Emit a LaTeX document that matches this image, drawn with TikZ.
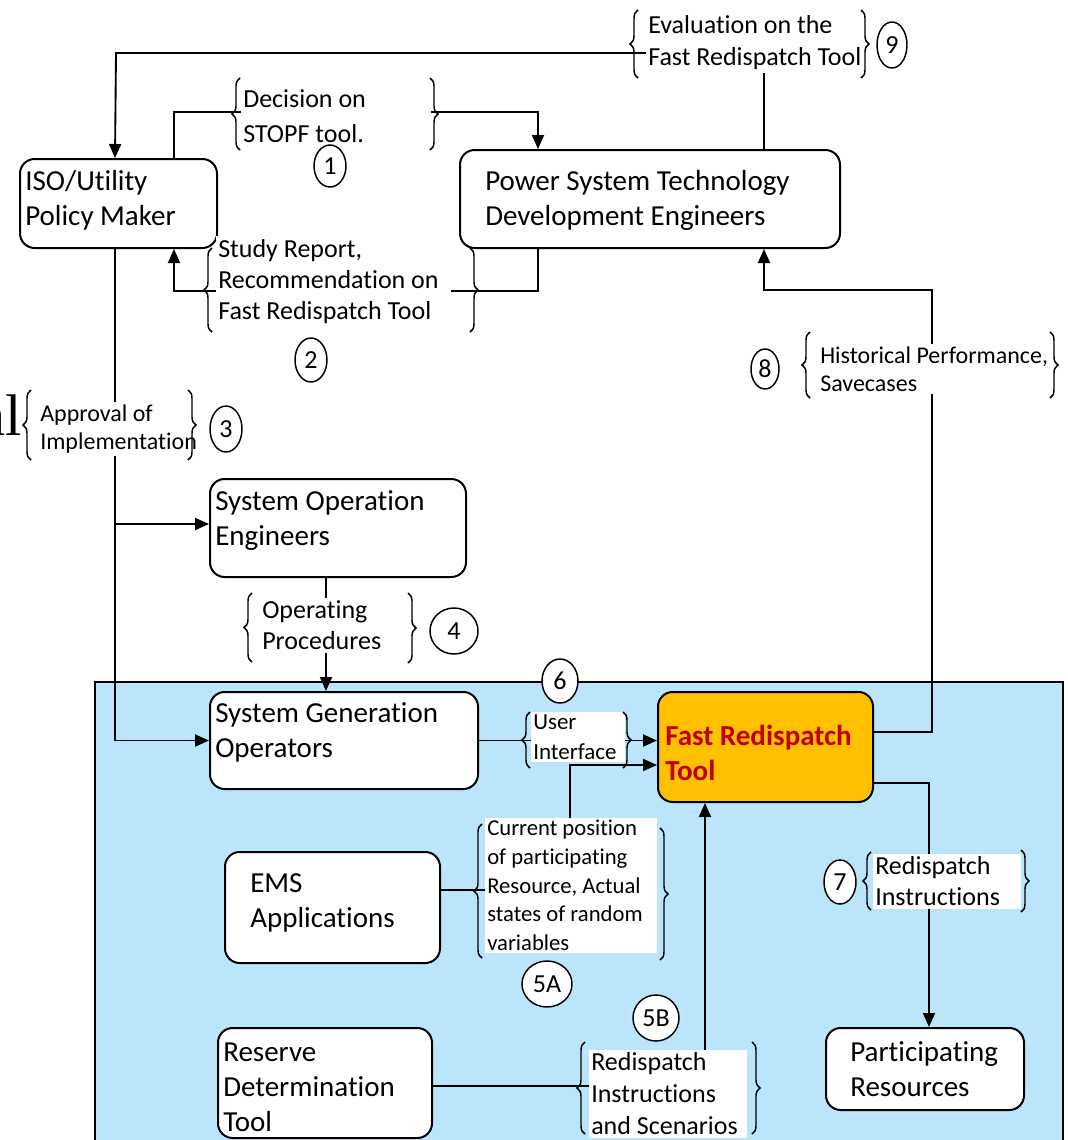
\documentclass[tikz,border=0pt]{standalone}
\usepackage{fontspec}
\setmainfont{Carlito}[Ligatures=NoCommon]
\newfontfamily\serifcut{Liberation Serif}
\usetikzlibrary{arrows.meta,decorations.pathreplacing,shapes.geometric,calc}
\definecolor{panelblue}{RGB}{187,229,251}
\definecolor{toolfill}{RGB}{255,192,0}
\definecolor{tooltext}{RGB}{192,0,0}

\begin{document}
\begin{tikzpicture}[x=0.75pt, y=-0.75pt,
  every node/.style={inner sep=0pt},
  box/.style 2 args={draw, line width=1.5pt, rounded corners=11pt, fill=white,
    minimum width=#1*0.75pt, minimum height=#2*0.75pt},
  boxtext/.style={anchor=west, align=left, font=\fontsize{21.75}{26.25}\selectfont},
  conn/.style={line width=1.4pt},
  arr/.style={-{Triangle[length=10.5pt,width=9pt]}},
  note/.style={anchor=west, align=flush left, fill=white, inner xsep=1.5pt, inner ysep=2pt,
    execute at begin node={\hyphenpenalty=10000}},
  brc/.style={decorate, decoration={brace, amplitude=6pt}, line width=1.1pt},
  num/.style 2 args={draw, ellipse, fill=white, line width=1.1pt,
    minimum width=#1*0.75pt, minimum height=#2*0.75pt,
    font=\fontsize{19.5}{20}\selectfont},
]
\useasboundingbox (0,0) rectangle (1068,1140);

% operations panel
\fill[panelblue] (95,682) rectangle (1063,1150);
\draw[line width=1.5pt] (95,1150) -- (95,682) -- (1063,682) -- (1063,1150);

% boxes
\node[box={197}{89}] (iso) at (118.5,203.5) {};
\node[box={380}{98}] (pst) at (650,199) {};
\node[box={256}{98}] (soe) at (338,528) {};
\node[box={268}{97}] (sgo) at (344,740.5) {};
\node[box={215}{110}, fill=toolfill] (frt) at (765.5,747) {};
\node[box={215}{111}] (ems) at (332.5,907.5) {};
\node[box={214}{110}] (rdt) at (325,1083) {};
\node[box={198}{82}] (par) at (925,1069) {};

\node[boxtext] (iso-t) at (25,200.5) {ISO/Utility\\Policy Maker};
\node[boxtext] (pst-t) at (485,200.5) {Power System Technology\\Development Engineers};
\node[boxtext] (soe-t) at (215,520.5) {System Operation\\Engineers};
\node[boxtext] (sgo-t) at (215,732.5) {System Generation\\Operators};
\node[boxtext, font=\fontsize{21.75}{26.25}\selectfont\bfseries, text=tooltext] (frt-t) at (665,752.5) {Fast Redispatch\\Tool};
\node[boxtext] (ems-t) at (250,902.5) {EMS\\Applications};
\node[boxtext] (rdt-t) at (223,1087) {Reserve\\Determination\\Tool};
\node[boxtext] (par-t) at (850,1069.5) {Participating\\Resources};

% connectors
\coordinate (trunk) at ($(iso.south west)+(96,0)$);
\coordinate (k9) at (116,53);
\coordinate (k8) at (932,290);
\coordinate (k5a) at (570,765);

\draw[conn,arr] ($(pst.north west)+(305,0)$) |- (k9) -- (trunk |- iso.north);
\draw[conn,arr] ($(iso.north west)+(155,0)$) |- (440,112) -| ($(pst.north west)+(79,0)$);
\draw[conn,arr] ($(pst.south west)+(79,0)$) |- (300,291) -| ($(iso.south west)+(155,0)$);
\draw[conn,arr] (trunk) |- (sgo.west);
\draw[conn,arr] (trunk |- 0,524) -- (soe.west |- 0,524);
\draw[conn,arr] ($(soe.south west)+(117,0)$) -- ($(sgo.north west)+(117,0)$);
\draw[conn,arr] (sgo.east) -- (sgo.east -| frt.west);
\draw[conn,arr] (ems.east |- 0,890) -| (k5a) -- (k5a -| frt.west);
\draw[conn,arr] (rdt.east |- 0,1086) -| ($(frt.south west)+(48,0)$);
\draw[conn,arr] ($(frt.north east)+(0,41)$) -| (k8) -| ($(pst.south west)+(305,0)$);
\draw[conn,arr] ($(frt.south east)+(0,-20)$) -| ($(par.north west)+(104,0)$);

% flow labels
\node[note, text width=139pt, font=\fontsize{19.5}{26.25}\selectfont] (l1) at (241,116) {Decision on\\STOPF tool.};
\node[note, text width=173pt, font=\fontsize{19.5}{23.5}\selectfont] (l2) at (216,281.5) {Study Report,\\Recommendation on\\Fast Redispatch Tool};
\node[note, text width=112pt, font=\fontsize{18}{21}\selectfont] (l3) at (38,429) {Approval of\\Implementation};
\node[note, text width=108pt, font=\fontsize{19.5}{23.25}\selectfont] (l4) at (260,625.5) {Operating\\Procedures};
\node[note, text width=67pt, font=\fontsize{17.25}{22.5}\selectfont] (l6) at (531,737) {User\\Interface};
\node[note, text width=126pt, font=\fontsize{17}{21.5}\selectfont] (l5a) at (485,885.5) {Current position\\of participating\\Resource, Actual\\states of random\\variables};
\node[note, text width=115pt, font=\fontsize{19.5}{24}\selectfont] (l5b) at (589,1094) {Redispatch\\Instructions\\and Scenarios};
\node[note, text width=108pt, font=\fontsize{19.5}{23.25}\selectfont] (l7) at (873,881.5) {Redispatch\\Instructions};
\node[note, text width=175pt, font=\fontsize{18}{21}\selectfont] (l8) at (818,369) {Historical Performance,\\Savecases};
\node[note, text width=162pt, font=\fontsize{19.5}{24}\selectfont] (l9) at (646,43) {Evaluation on the\\Fast Redispatch Tool};

\node[anchor=base east, font=\serifcut\fontsize{44}{44}\selectfont] (cut) at (22,435) {al};

% braces round the labels
\draw[brc] (240,150) -- (240,78);
\draw[brc] (430,78) -- (430,150);
\draw[brc] (212,332) -- (212,248);
\draw[brc] (470,248) -- (470,332);
\draw[brc] (31,460) -- (31,390);
\draw[brc] (188,390) -- (188,460);
\draw[brc] (252,662) -- (252,593);
\draw[brc] (408,593) -- (408,663);
\draw[brc] (530,768) -- (530,712);
\draw[brc] (623,712) -- (623,768);
\draw[brc] (482,958) -- (482,824);
\draw[brc] (660,828) -- (660,960);
\draw[brc] (585,1134) -- (585,1042);
\draw[brc] (752,1042) -- (752,1134);
\draw[brc] (871,910) -- (871,852);
\draw[brc] (1021,850) -- (1021,912);
\draw[brc] (810,398) -- (810,332);
\draw[brc] (1050,332) -- (1050,398);
\draw[brc] (638,78) -- (638,10);
\draw[brc] (861,10) -- (861,78);

% step numbers
\node[num={32}{42}] (n1) at (330,166) {1};
\node[num={32}{44}] (n2) at (311,360) {2};
\node[num={32}{46}] (n3) at (226,429) {3};
\node[num={48}{46}] (n4) at (454,631) {4};
\node[num={36}{44}] (n6) at (560,681) {6};
\node[num={50}{46}] (n5a) at (547,984) {5A};
\node[num={46}{46}] (n5b) at (656,1018) {5B};
\node[num={32}{44}] (n7) at (840,882) {7};
\node[num={28}{40}] (n8) at (765,369) {8};
\node[num={30}{46}] (n9) at (892,45) {9};
\end{tikzpicture}
\end{document}
